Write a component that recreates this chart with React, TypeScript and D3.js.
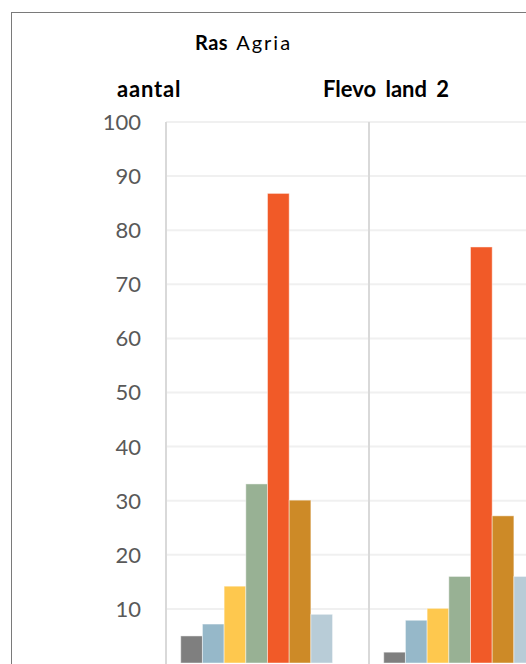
import { useEffect, useRef } from "react";
import * as d3 from "d3";

// panels (groups along the x axis); only the first two are in view
const panels = ["Flevoland 1", "Flevoland 2", "Flevoland 3"];
// series per panel (size classes)
const series = ["klasse 1", "klasse 2", "klasse 3", "klasse 4", "klasse 5", "klasse 6", "klasse 7", "klasse 8"];
const seriesColors = ["#7f7f7f", "#96b8c9", "#fec84e", "#98b194", "#f15a28", "#cd8a27", "#b8ccd7", "#d9d9d9"];
const valuesPanel1 = [5, 7.2, 14.2, 33.1, 86.8, 30.1, 9, 0];
const valuesPanel2 = [2, 7.9, 10.1, 16, 76.9, 27.2, 16, 0];
const valuesPanel3 = [0, 0, 0, 0, 0, 0, 0, 0];
const yTicks = [10, 20, 30, 40, 50, 60, 70, 80, 90, 100];

const FONT = "Lato, 'Open Sans', sans-serif";

export default function App() {
  const svgRef = useRef<SVGSVGElement>(null);

  useEffect(() => {
    document.body.style.margin = "0";
    const width = 526;
    const height = 664;
    const svg = d3.select(svgRef.current);
    svg.selectAll("*").remove();
    svg.attr("width", width).attr("height", height).style("background", "#fff");

    const plotLeft = 166;
    const panelWidth = 203;

    // outer frame of the chart
    svg
      .append("rect")
      .attr("x", 11.5)
      .attr("y", 12.5)
      .attr("width", 700)
      .attr("height", 800)
      .attr("fill", "none")
      .attr("stroke", "#7a7a7a")
      .attr("stroke-width", 1);

    const yScale = d3.scaleLinear().domain([0, 100]).range([663, 122]);

    const xPanel = d3
      .scaleBand()
      .domain(panels)
      .range([plotLeft, plotLeft + panelWidth * panels.length])
      .padding(0);

    const xSeries = d3
      .scaleBand()
      .domain(series)
      .range([0, panelWidth])
      .paddingInner(0)
      .paddingOuter(0.68);

    // horizontal gridlines
    svg
      .append("g")
      .selectAll("line")
      .data(yTicks)
      .enter()
      .append("line")
      .attr("x1", plotLeft)
      .attr("x2", width)
      .attr("y1", (d) => yScale(d))
      .attr("y2", (d) => yScale(d))
      .attr("stroke", "#f0f0f0")
      .attr("stroke-width", 2);

    // y axis tick labels
    svg
      .append("g")
      .selectAll("text")
      .data(yTicks)
      .enter()
      .append("text")
      .attr("x", 141)
      .attr("y", (d) => yScale(d))
      .attr("dy", "0.36em")
      .attr("text-anchor", "end")
      .attr("font-family", FONT)
      .attr("font-size", 22)
      .attr("fill", "#595959")
      .text((d) => d);

    const allValues = [valuesPanel1, valuesPanel2, valuesPanel3];

    const groups = svg
      .append("g")
      .selectAll("g")
      .data(panels)
      .enter()
      .append("g")
      .attr("transform", (d) => `translate(${xPanel(d)},0)`);

    groups
      .selectAll("rect")
      .data((_, i) => allValues[i].map((v, j) => ({ v, s: series[j], c: seriesColors[j] })))
      .enter()
      .append("rect")
      .attr("x", (d) => xSeries(d.s)!)
      .attr("y", (d) => yScale(d.v))
      .attr("width", xSeries.bandwidth())
      .attr("height", (d) => yScale(0) - yScale(d.v))
      .attr("fill", (d) => d.c)
      .attr("stroke", "rgba(255,255,255,0.45)")
      .attr("stroke-width", 1);

    // panel dividers + left axis line
    svg
      .append("g")
      .selectAll("line")
      .data(panels)
      .enter()
      .append("line")
      .attr("x1", (d) => xPanel(d)!)
      .attr("x2", (d) => xPanel(d)!)
      .attr("y1", yScale(100))
      .attr("y2", height)
      .attr("stroke", "#d9d9d9")
      .attr("stroke-width", 2);

    // titles
    const title = svg
      .append("text")
      .attr("x", 195)
      .attr("y", 50)
      .attr("font-family", FONT)
      .attr("font-size", 20)
      .attr("fill", "#000");
    title.append("tspan").attr("font-weight", "bold").attr("letter-spacing", 0.5).text("Ras");
    title.append("tspan").attr("dx", 8).attr("letter-spacing", 2).text("Agria");

    svg
      .append("text")
      .attr("x", 117)
      .attr("y", 97)
      .attr("font-family", FONT)
      .attr("font-size", 22)
      .attr("font-weight", "bold")
      .attr("letter-spacing", 0.8)
      .attr("fill", "#000")
      .text("aantal");

    svg
      .append("text")
      .attr("x", 323)
      .attr("y", 97)
      .attr("font-family", FONT)
      .attr("font-size", 22)
      .attr("font-weight", "bold")
      .attr("fill", "#000")
      .attr("word-spacing", 4)
      .text("Flevo land 2");
  }, []);

  return (
    <svg
      ref={svgRef}
      style={{ position: "absolute", left: 0, top: 0, display: "block", overflow: "hidden" }}
    ></svg>
  );
}
